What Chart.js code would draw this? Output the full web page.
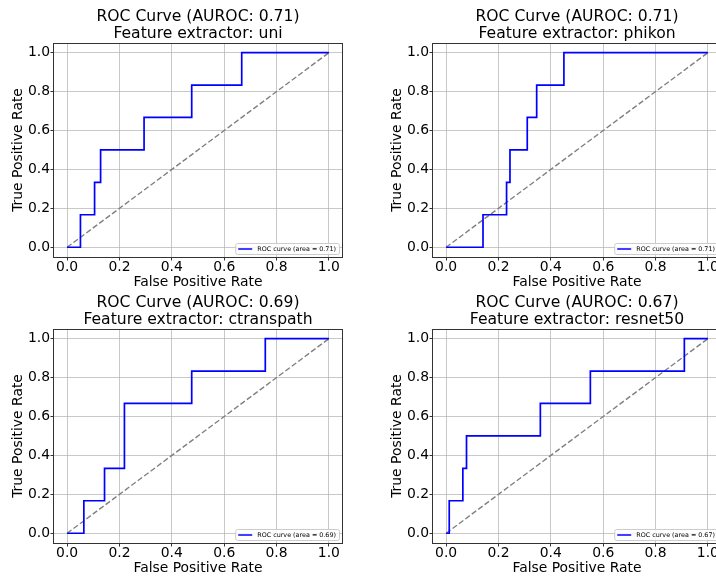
<!DOCTYPE html>
<html>
<head>
<meta charset="utf-8">
<script src="https://cdn.jsdelivr.net/npm/chart.js@4.4.1/dist/chart.umd.min.js"></script>
<style>
  html, body { margin: 0; padding: 0; background: #fff; overflow: hidden; }
  #wrap { position: relative; width: 716px; height: 580px; overflow: hidden; }
  #wrap canvas { position: absolute; }
</style>
</head>
<body>
<div id="wrap">
  <canvas id="roc_uni" width="358" height="300" style="left:0px;top:0px"></canvas>
  <canvas id="roc_phikon" width="358" height="300" style="left:379px;top:0px"></canvas>
  <canvas id="roc_ctranspath" width="358" height="300" style="left:0px;top:286px"></canvas>
  <canvas id="roc_resnet50" width="358" height="300" style="left:379px;top:286px"></canvas>
</div>
<script>
// feature extractors + their AUROC
var models = ['uni', 'phikon', 'ctranspath', 'resnet50'];
var aurocs = [0.71, 0.71, 0.69, 0.67];

// ROC points (fpr / tpr)
var fpr_uni = [0, 0.051, 0.051, 0.105, 0.105, 0.128, 0.128, 0.294, 0.294, 0.476, 0.476, 0.667, 0.667, 1.0];
var tpr_uni = [0, 0, 0.167, 0.167, 0.333, 0.333, 0.5, 0.5, 0.667, 0.667, 0.833, 0.833, 1.0, 1.0];

var fpr_phikon = [0, 0.141, 0.141, 0.231, 0.231, 0.244, 0.244, 0.310, 0.310, 0.346, 0.346, 0.450, 0.450, 1.0];
var tpr_phikon = [0, 0, 0.167, 0.167, 0.333, 0.333, 0.5, 0.5, 0.667, 0.667, 0.833, 0.833, 1.0, 1.0];

var fpr_ctranspath = [0, 0.064, 0.064, 0.143, 0.143, 0.219, 0.219, 0.476, 0.476, 0.757, 0.757, 1.0];
var tpr_ctranspath = [0, 0, 0.167, 0.167, 0.333, 0.333, 0.667, 0.667, 0.833, 0.833, 1.0, 1.0];

var fpr_resnet50 = [0, 0.012, 0.012, 0.064, 0.064, 0.078, 0.078, 0.360, 0.360, 0.551, 0.551, 0.910, 0.910, 1.0];
var tpr_resnet50 = [0, 0, 0.167, 0.167, 0.333, 0.333, 0.5, 0.5, 0.667, 0.667, 0.833, 0.833, 1.0, 1.0];

var fpr_all = [fpr_uni, fpr_phikon, fpr_ctranspath, fpr_resnet50];
var tpr_all = [tpr_uni, tpr_phikon, tpr_ctranspath, tpr_resnet50];

// chance line
var diag_x = [0, 1];
var diag_y = [0, 1];

var tick_values = [0, 0.2, 0.4, 0.6, 0.8, 1.0];
var tick_labels = ['0.0', '0.2', '0.4', '0.6', '0.8', '1.0'];

Chart.defaults.font.family = '"DejaVu Sans", sans-serif';
Chart.defaults.color = '#000';

// axes frame (all four spines)
var framePlugin = {
    id: 'frame',
    afterDatasetsDraw: function (chart) {
        var a = chart.chartArea, c = chart.ctx;
        c.save();
        c.strokeStyle = '#333';
        c.lineWidth = 1;
        c.strokeRect(Math.round(a.left) - 0.5, Math.round(a.top) + 0.5,
            Math.round(a.right - a.left) + 1, Math.round(a.bottom - a.top));
        c.restore();
    }
};

// small legend box in the lower right corner
var rocLegend = {
    id: 'roclegend',
    afterDraw: function (chart, args, opts) {
        var a = chart.chartArea, c = chart.ctx;
        c.save();
        c.font = '6.4px "DejaVu Sans", sans-serif';
        var tw = c.measureText(opts.text).width;
        var w = 22 + tw + 3, h = 11;
        var x = a.right - 3 - w, y = a.bottom - 3 - h;
        c.beginPath();
        c.roundRect(x + 0.5, y + 0.5, w, h, 2);
        c.fillStyle = 'rgba(255,255,255,0.8)';
        c.fill();
        c.strokeStyle = '#ccc';
        c.lineWidth = 1;
        c.stroke();
        c.beginPath();
        c.moveTo(x + 3, y + h / 2 + 0.5);
        c.lineTo(x + 17, y + h / 2 + 0.5);
        c.strokeStyle = '#0000ff';
        c.lineWidth = 1.5;
        c.stroke();
        c.fillStyle = '#000';
        c.textBaseline = 'middle';
        c.fillText(opts.text, x + 22, y + h / 2 + 1);
        c.restore();
    }
};

function toPoints(xs, ys) {
    return xs.map(function (v, i) { return { x: v, y: ys[i] }; });
}

function axisOpts(title, isX) {
    return {
        type: 'linear',
        min: -0.05,
        max: 1.05,
        afterBuildTicks: function (s) {
            s.ticks = tick_values.map(function (v) { return { value: v }; });
        },
        afterFit: function (s) {
            if (isX) { s.height = 43; } else { s.width = 54; }
        },
        ticks: {
            callback: function (v, i) { return tick_labels[i]; },
            font: { size: 13.9, lineHeight: 1 },
            color: '#000',
            padding: isX ? 0 : 0.5,
            maxRotation: 0,
            autoSkip: false
        },
        grid: {
            color: 'rgba(176,176,176,0.7)',
            lineWidth: 1,
            tickColor: '#333',
            tickLength: 3.5
        },
        border: { display: false },
        title: {
            display: true,
            text: title,
            color: '#000',
            font: { size: 13.9, lineHeight: 1.2 },
            padding: isX ? { top: 0, bottom: 8.8 } : { top: 10.4, bottom: 0 }
        }
    };
}

models.forEach(function (m, k) {
    var ctx = document.getElementById('roc_' + m);
    new Chart(ctx, {
        type: 'scatter',
        data: {
            datasets: [{
                label: 'ROC curve (area = ' + aurocs[k].toFixed(2) + ')',
                data: toPoints(fpr_all[k], tpr_all[k]),
                showLine: true,
                borderColor: '#0000ff',
                borderWidth: 1.7,
                pointRadius: 0,
                tension: 0,
                order: 0
            }, {
                label: 'chance',
                data: toPoints(diag_x, diag_y),
                showLine: true,
                borderColor: '#808080',
                borderWidth: 1.4,
                borderDash: [5.5, 2.5],
                pointRadius: 0,
                order: 1
            }]
        },
        options: {
            responsive: false,
            animation: false,
            layout: { padding: { left: 0, right: 16, top: 0, bottom: 0 } },
            scales: {
                x: axisOpts('False Positive Rate', true),
                y: axisOpts('True Positive Rate', false)
            },
            plugins: {
                legend: { display: false },
                tooltip: { enabled: false },
                title: {
                    display: true,
                    fullSize: false,
                    text: ['ROC Curve (AUROC: ' + aurocs[k].toFixed(2) + ')', 'Feature extractor: ' + m],
                    color: '#000',
                    font: { size: 15.6, weight: 'normal', lineHeight: 1.12 },
                    padding: { top: 8, bottom: 0 }
                },
                roclegend: { text: 'ROC curve (area = ' + aurocs[k].toFixed(2) + ')' }
            }
        },
        plugins: [framePlugin, rocLegend]
    });
});
</script>
</body>
</html>
